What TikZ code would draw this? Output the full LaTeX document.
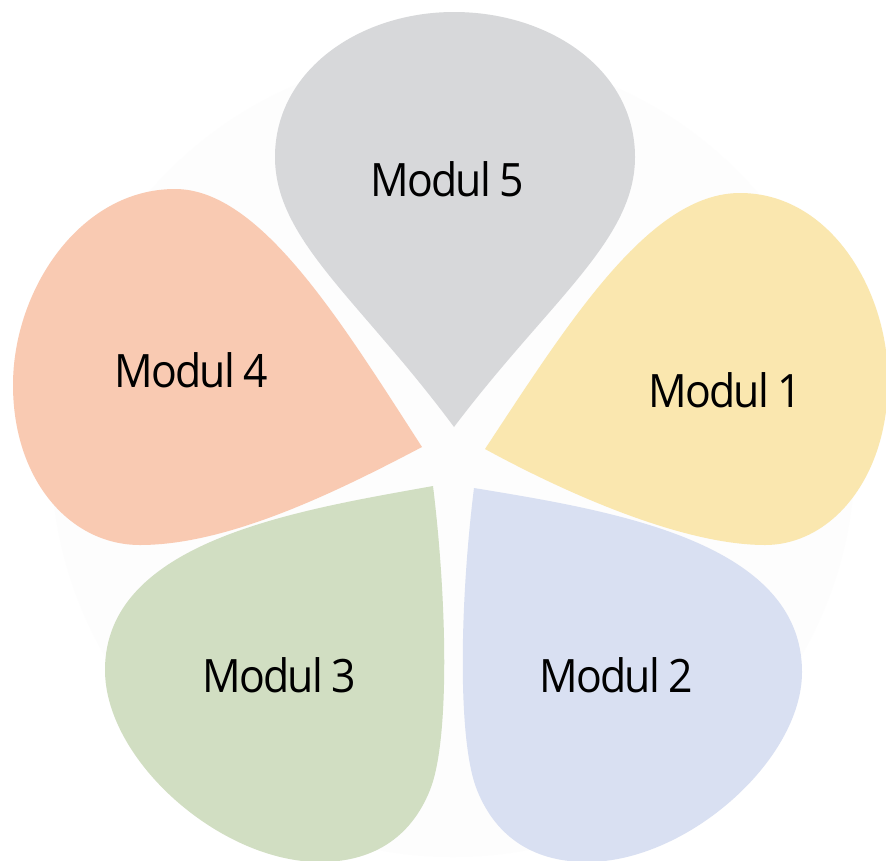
\documentclass[tikz,border=0pt]{standalone}
\usepackage{fontspec}
\setmainfont{Open Sans}[LetterSpace=-4]
\definecolor{bgc}{RGB}{253,253,253}
\definecolor{petgray}{RGB}{215,216,218}
\definecolor{petyellow}{RGB}{250,231,175}
\definecolor{petorange}{RGB}{249,202,178}
\definecolor{petblue}{RGB}{217,224,242}
\definecolor{petgreen}{RGB}{209,222,194}
\tikzset{
  petal/.style={draw=none},
  lbl/.style={anchor=base, inner sep=0pt, font=\fontsize{46}{50}\selectfont, text=black}
}
\newcommand{\modlabel}[2]{\scalebox{0.93}[1]{#1\hspace{0.2em}#2}}
\begin{document}
\begin{tikzpicture}[x=1pt,y=-1pt]
\useasboundingbox (0,0) rectangle (886,860);
\clip (0,0) rectangle (886,860);
\fill[white] (0,0) rectangle (886,860);
% faint background disc
\fill[bgc] (453,455) circle (402);
% Modul 5 (gray, top)
\fill[petgray, petal] (454,427) .. controls (360,300) and (275,240) .. (275,157)
  .. controls (275,70) and (360,12) .. (454,12)
  .. controls (550,12) and (635,70) .. (635,157)
  .. controls (635,240) and (550,300) .. (454,427) -- cycle;
% Modul 1 (yellow, right)
\fill[petyellow, petal] (485,449) .. controls (570,320) and (650,193) .. (740,193)
  .. controls (830,193) and (888,290) .. (888,380)
  .. controls (888,480) and (830,545) .. (765,545)
  .. controls (680,545) and (560,490) .. (485,449) -- cycle;
% Modul 2 (blue, lower right)
\fill[petblue, petal] (474,488) .. controls (460,600) and (457,740) .. (477,790)
  .. controls (497,840) and (537,862) .. (587,862)
  .. controls (687,862) and (802,760) .. (802,672)
  .. controls (802,540) and (607,510) .. (474,488) -- cycle;
% Modul 3 (green, lower left)
\fill[petgreen, petal] (433,486) .. controls (447,600) and (450,740) .. (430,790)
  .. controls (410,840) and (370,862) .. (320,862)
  .. controls (220,862) and (105,760) .. (105,670)
  .. controls (105,540) and (300,510) .. (433,486) -- cycle;
% Modul 4 (orange, left)
\fill[petorange, petal] (422,447) .. controls (340,320) and (260,189) .. (175,189)
  .. controls (80,189) and (13,290) .. (13,385)
  .. controls (13,480) and (70,545) .. (140,545)
  .. controls (230,545) and (340,490) .. (422,447) -- cycle;
% labels
\node[lbl] (m5) at (447,196) {\modlabel{Modul}{5}};
\node[lbl] (m1) at (725,407) {\modlabel{Modul}{1}};
\node[lbl] (m2) at (616,692) {\modlabel{Modul}{2}};
\node[lbl] (m3) at (279,692) {\modlabel{Modul}{3}};
\node[lbl] (m4) at (191,387) {\modlabel{Modul}{4}};
\end{tikzpicture}
\end{document}
